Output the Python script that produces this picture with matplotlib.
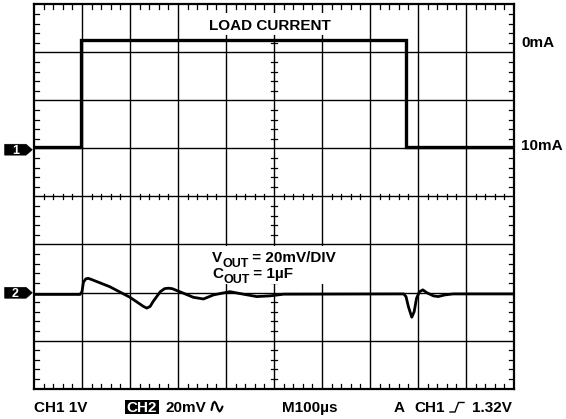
import matplotlib
matplotlib.use('Agg')
import matplotlib.pyplot as plt
from matplotlib.patches import Polygon, Rectangle

# ---------------- data ----------------
time_per_div_us = 100
n_xdiv = 10
n_ydiv = 8

# Channel 1: load current step
ch1_time_us = [0, 98, 98, 776, 776, 1000]
ch1_load_mA = [10, 10, 0, 0, 10, 10]

# Channel 2: output voltage deviation (AC coupled)
ch2_time_us = [0, 96, 100, 103, 108, 113, 120, 158, 200, 228, 235, 242, 248, 263,
               272, 280, 288, 304, 332, 353, 374, 408, 436, 464, 492, 520,
               770, 775, 780, 787, 792, 797, 803, 810, 818, 832, 842, 856, 873, 1000]
ch2_vout_mV = [-0.2, -0.2, 1.0, 4.9, 6.3, 6.5, 6.0, 3.0, -1.4, -5.2, -5.9, -5.2, -3.2, 0.9,
               2.2, 2.4, 2.2, 0.9, -1.4, -2.1, -0.4, 0.95, -0.1, -1.1, -0.8, -0.1,
               0.0, -1.1, -5.3, -9.7, -7.4, -1.8, 0.9, 1.7, 0.55, -0.8, -1.1, -0.4, 0.0, 0.0]

ch1_level_labels = ["0mA", "10mA"]
title_text = "LOAD CURRENT"
bottom_labels = ["CH1 1V", "20mV", "M100\u00b5s", "A", "CH1", "1.32V"]

# display mapping (divisions)
CH1_10MA_DIV = 5.03
CH1_DIV_PER_MA = 0.223
CH2_ZERO_DIV = 1.97
CH2_MV_PER_DIV = 20.0

W, H = 566, 419
FONT = 'Liberation Sans'
FS = 11

fig = plt.figure(figsize=(W / 100, H / 100), dpi=100)
fig.patch.set_facecolor('white')

L, R, T, B = 34, 514, 4.5, 388.5
ax = fig.add_axes([L / W, 1 - B / H, (R - L) / W, (B - T) / H])
ax.set_xlim(0, n_xdiv * time_per_div_us)
ax.set_ylim(0, n_ydiv)
ax.set_xticks([])
ax.set_yticks([])
for s in ax.spines.values():
    s.set_linewidth(1.6)
    s.set_color('black')
    s.set_zorder(6)

# graticule
for k in range(1, n_xdiv):
    ax.axvline(k * time_per_div_us, color='black', lw=1.0, zorder=1)
for j in range(1, n_ydiv):
    ax.axhline(j, color='black', lw=1.0, zorder=1)

# minor ticks
xmax = n_xdiv * time_per_div_us
tick_y = 0.10
tick_x = tick_y * time_per_div_us
cx = xmax / 2
cy = n_ydiv / 2
for i in range(n_xdiv * 5 + 1):
    if i % 5 == 0:
        continue
    x = i * time_per_div_us / 5
    ax.plot([x, x], [n_ydiv, n_ydiv - tick_y], color='black', lw=0.9, zorder=1)
    ax.plot([x, x], [0, tick_y], color='black', lw=0.9, zorder=1)
    ax.plot([x, x], [cy - 0.06, cy + 0.06], color='black', lw=0.9, zorder=1)
for i in range(n_ydiv * 5 + 1):
    if i % 5 == 0:
        continue
    y = i / 5
    ax.plot([0, tick_x], [y, y], color='black', lw=0.9, zorder=1)
    ax.plot([xmax, xmax - tick_x], [y, y], color='black', lw=0.9, zorder=1)
    ax.plot([cx - 6, cx + 6], [y, y], color='black', lw=0.9, zorder=1)

def px_to_data(x, y):
    return ((x - L) / (R - L) * xmax, (B - y) / (B - T) * n_ydiv)

def white_box(x0, y0, x1, y1):
    (dx0, dy0) = px_to_data(x0, y1)
    (dx1, dy1) = px_to_data(x1, y0)
    ax.add_patch(Rectangle((dx0, dy0), dx1 - dx0, dy1 - dy0, facecolor='white',
                           edgecolor='none', zorder=2))

white_box(200, 13, 345, 35)
white_box(200, 246, 350, 284)

# traces
ch1_y = [CH1_10MA_DIV + (10 - v) * CH1_DIV_PER_MA for v in ch1_load_mA]
ax.plot(ch1_time_us, ch1_y, color='black', lw=2.4, solid_joinstyle='miter', zorder=3)
ch2_y = [CH2_ZERO_DIV + v / CH2_MV_PER_DIV for v in ch2_vout_mV]
ax.plot(ch2_time_us, ch2_y, color='black', lw=2.0, solid_joinstyle='round',
        solid_capstyle='butt', zorder=3)

# overlay in pixel coordinates for annotations
ov = fig.add_axes([0, 0, 1, 1], facecolor='none')
ov.set_xlim(0, W)
ov.set_ylim(H, 0)
ov.axis('off')

txt = dict(family=FONT, fontweight='bold', fontsize=FS, color='black')

ov.text(270, 30, title_text, ha='center', va='baseline', **txt)
ov.text(521, 47.3, ch1_level_labels[0], ha='left', va='baseline', **txt)
ov.text(521, 150, ch1_level_labels[1], ha='left', va='baseline', **txt)

# channel markers
def marker(yc, label):
    h = 5.4
    pts = [(4.7, yc - h), (26, yc - h), (32.3, yc), (26, yc + h), (4.7, yc + h)]
    ov.add_patch(Polygon(pts, closed=True, facecolor='black', edgecolor='black', lw=0.5))
    ov.text(15.3, yc + 4.2, label, ha='center', va='baseline', family=FONT,
            fontweight='bold', fontsize=9, color='white')

marker(149.7, "1")
marker(292.8, "2")

# V_OUT / C_OUT annotations with subscripts
fig.canvas.draw()
rend = fig.canvas.get_renderer()

def sub_text(x, base, main, sub, rest):
    t1 = ov.text(x, base, main, ha='left', va='baseline', **txt)
    bb = t1.get_window_extent(rend)
    x2 = x + bb.width
    t2 = ov.text(x2, base + 4.4, sub, ha='left', va='baseline', family=FONT,
                 fontweight='bold', fontsize=FS * 0.82, color='black')
    bb2 = t2.get_window_extent(rend)
    ov.text(x2 + bb2.width, base, rest, ha='left', va='baseline', **txt)

sub_text(212, 262.3, "V", "OUT", " = 20mV/DIV")
sub_text(212, 278.3, "C", "OUT", " = 1\u00b5F")

# bottom status line
by = 412.3
ov.text(34, by, bottom_labels[0], ha='left', va='baseline', **txt)
ov.add_patch(Rectangle((125, 400), 34, 14, facecolor='black', edgecolor='none'))
ov.text(142, by, "CH2", ha='center', va='baseline', family=FONT, fontweight='bold',
        fontsize=FS, color='white')
ov.text(166, by, bottom_labels[1], ha='left', va='baseline', **txt)
# sine-wave coupling symbol
ov.plot([211.5, 213, 214.5, 216, 218, 219.5, 221, 222.5],
        [410, 403.5, 401.8, 403.5, 409, 411.5, 410, 406.5], color='black', lw=1.5,
        solid_capstyle='round', solid_joinstyle='round')
ov.text(282, by, bottom_labels[2], ha='left', va='baseline', **txt)
ov.text(394, by, bottom_labels[3], ha='left', va='baseline', **txt)
ov.text(414, by, bottom_labels[4], ha='left', va='baseline', **txt)
# rising-edge trigger symbol
ov.plot([450, 455, 458.5, 464], [412, 412, 402.5, 402.5], color='black', lw=1.0)
ov.text(512, by, bottom_labels[5], ha='right', va='baseline', **txt)

fig.savefig('out.png', dpi=100, facecolor='white')
